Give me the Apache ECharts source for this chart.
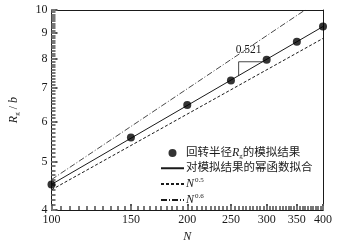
<!DOCTYPE html>
<html>
<head>
<meta charset="utf-8">
<script src="https://cdn.jsdelivr.net/npm/echarts@6/dist/echarts.min.js"></script>
<style>
  html, body { margin: 0; padding: 0; background: #fff; }
  #chart { width: 349px; height: 248px; }
</style>
</head>
<body>
<div id="chart"></div>
<script>
// simulated Rg/b at each chain length N
const simN = [100, 150, 200, 250, 300, 350, 400]
const simRg = [4.5, 5.58, 6.47, 7.24, 7.96, 8.65, 9.27]
// straight lines in log-log, two end points each
const fitLine = [[100, 4.5], [400, 9.27]]
const powHalf = [[100, 4.39], [400, 8.78]]
const powSix = [[100, 4.6], [365, 10]]
// slope triangle on the fit line
const slopeTri = [[260, 7.40], [260, 7.89], [294, 7.89]]
const slopeText = '0.521'

const xLabels = [100, 150, 200, 250, 300, 350, 400]
const yLabels = [4, 5, 6, 7, 8, 9, 10]
const xMinor = []
for (let v = 100; v <= 400; v += 5) xMinor.push(v)
const yMinor = []
for (let v = 40; v <= 100; v += 1) yMinor.push(v / 10)

const serif = '"Liberation Serif", "Noto Sans CJK SC", serif'
const black = '#1a1a1a'

const chart = echarts.init(document.getElementById('chart'))

// one log axis; kind = 'major' | 'minor' | 'frame'
function logAxis (min, max, pos, kind, ticks) {
  const major = kind === 'major'
  const ax = {
    type: 'log', min: min, max: max, position: pos,
    splitLine: { show: false },
    axisLine: { show: kind !== 'minor', lineStyle: { color: black, width: 1 } },
    axisTick: {
      show: kind !== 'frame', inside: true, length: major ? 6 : 4,
      lineStyle: { color: major ? '#555' : '#777', width: 2 }
    },
    axisLabel: { show: major, color: black, fontFamily: serif, fontSize: 12, margin: 4 }
  }
  if (ticks) {
    ax.axisTick.customValues = ticks
    if (major) ax.axisLabel.customValues = ticks
  }
  return ax
}

const xMain = logAxis(100, 400, 'bottom', 'major', xLabels)
xMain.name = 'N'
xMain.nameLocation = 'middle'
xMain.nameGap = 19
xMain.nameTextStyle = { fontFamily: serif, fontStyle: 'italic', fontSize: 12, color: black }

const yMain = logAxis(4, 10, 'left', 'major', yLabels)
yMain.name = '{i|R}{s|g}{t| / }{i|b}'
yMain.nameLocation = 'middle'
yMain.nameGap = 31
yMain.nameTextStyle = {
  color: black,
  rich: {
    i: { fontFamily: serif, fontStyle: 'italic', fontSize: 12, color: black },
    t: { fontFamily: serif, fontSize: 12, color: black },
    s: { fontFamily: serif, fontSize: 7, color: black, padding: [6, 0, 0, 0] }
  }
}

const option = {
  animation: false,
  backgroundColor: '#fff',
  grid: { left: 49, right: 26, top: 10, bottom: 34 },
  xAxis: [xMain, logAxis(100, 400, 'bottom', 'minor', xMinor), logAxis(100, 400, 'top', 'frame')],
  yAxis: [yMain, logAxis(4, 10, 'left', 'minor', yMinor), logAxis(4, 10, 'right', 'frame')],
  legend: {
    orient: 'vertical',
    left: 160,
    top: 147,
    itemWidth: 23,
    itemHeight: 8,
    itemGap: 3,
    padding: 0,
    textStyle: {
      color: black, fontFamily: serif, fontSize: 11.5, padding: [0, 0, 0, -3],
      rich: {
        t: { fontFamily: serif, fontSize: 11.5, color: black },
        i: { fontFamily: serif, fontStyle: 'italic', fontSize: 12, color: black },
        s: { fontFamily: serif, fontSize: 7, color: black, padding: [6, 0, 0, 0] },
        p: { fontFamily: serif, fontSize: 7, color: black, padding: [0, 0, 7, 1] }
      }
    },
    data: [
      { name: 'sim' },
      { name: 'fit', itemStyle: { opacity: 0 } },
      { name: 'half', itemStyle: { opacity: 0 } },
      { name: 'six', itemStyle: { opacity: 0 } }
    ],
    formatter: function (name) {
      if (name === 'sim') return '{t|回转半径}{i|R}{s|g}{t|的模拟结果}'
      if (name === 'fit') return '{t|对模拟结果的幂函数拟合}'
      if (name === 'half') return '{i|N}{p|0.5}'
      return '{i|N}{p|0.6}'
    }
  },
  series: [
    {
      name: 'half', type: 'line', data: powHalf, symbol: 'none',
      itemStyle: { color: black },
      lineStyle: { color: black, width: 1, type: [3, 2] }
    },
    {
      name: 'six', type: 'line', data: powSix, symbol: 'none',
      itemStyle: { color: black },
      lineStyle: { color: black, width: 0.8, type: [6, 2, 1, 2] }
    },
    {
      name: 'fit', type: 'line', data: fitLine, symbol: 'none',
      itemStyle: { color: black },
      lineStyle: { color: black, width: 1 }
    },
    {
      name: 'tri', type: 'line', symbol: 'none', showSymbol: false,
      lineStyle: { color: black, width: 0.8 },
      data: slopeTri,
      markPoint: {
        symbol: 'circle', symbolSize: 0,
        label: {
          show: true, formatter: slopeText, position: 'top', align: 'left',
          offset: [-3, -1], fontFamily: serif, fontSize: 11.5, color: black
        },
        data: [{ coord: slopeTri[1] }]
      }
    },
    {
      name: 'sim', type: 'scatter', symbol: 'circle', symbolSize: 8,
      itemStyle: { color: '#000' },
      data: simN.map((n, i) => [n, simRg[i]]),
      z: 5
    }
  ]
}

chart.setOption(option)
</script>
</body>
</html>
